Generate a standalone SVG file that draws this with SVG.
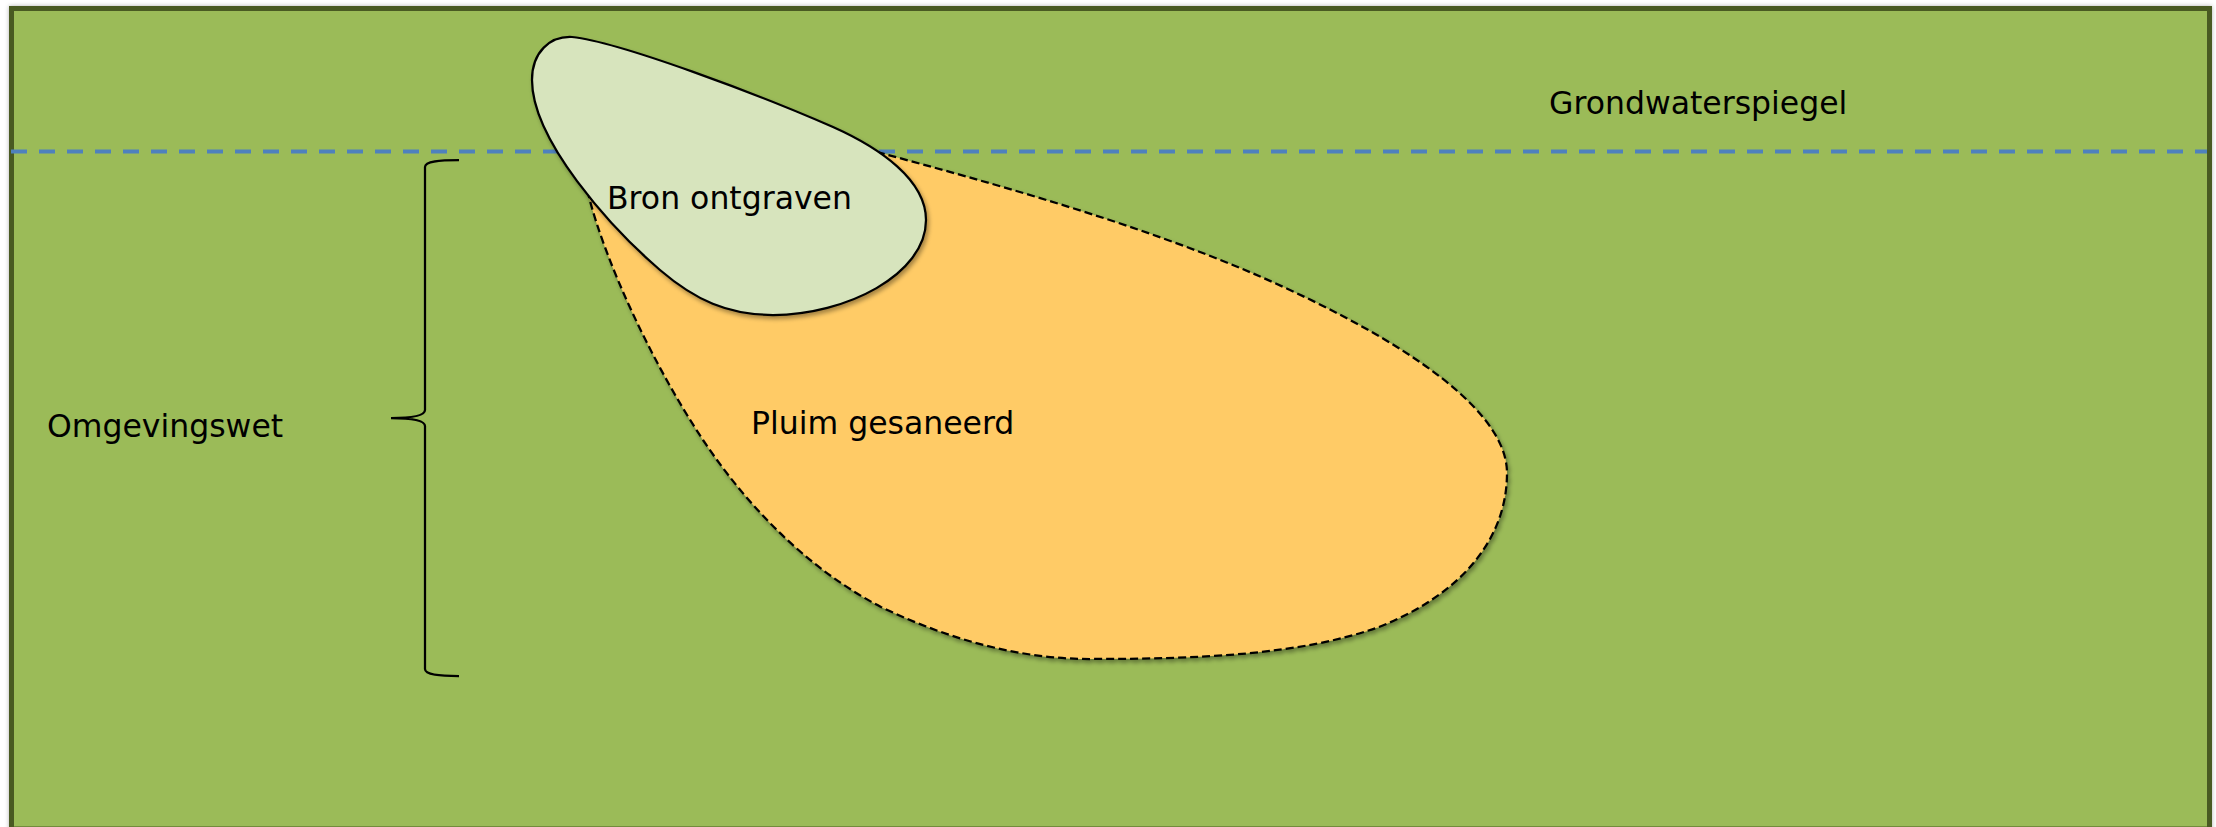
<svg xmlns="http://www.w3.org/2000/svg" width="2216" height="827" viewBox="0 0 2216 827">
  <defs>
    <filter id="shadow" x="-10%" y="-10%" width="130%" height="130%">
      <feDropShadow dx="2" dy="3" stdDeviation="2" flood-color="#000" flood-opacity="0.35"/>
    </filter>
    <filter id="frameShadow" x="-2%" y="-2%" width="104%" height="104%">
      <feDropShadow dx="0" dy="0" stdDeviation="2" flood-color="#000" flood-opacity="0.3"/>
    </filter>
  </defs>
  <style>
    .lbl { font-family: "DejaVu Sans", Verdana, "Liberation Sans", sans-serif; font-size: 31.5px; fill: #000; }
    .frame { fill: #9BBB59; stroke: #4A5A24; stroke-width: 5; }
    .water { stroke: #4F81BD; stroke-width: 4; stroke-dasharray: 16 12; fill: none; }
    .plume { fill: #FFCB66; stroke: #000; stroke-width: 2.25; stroke-dasharray: 8 4; }
    .source { fill: #D7E4BD; stroke: #000; stroke-width: 2.25; }
    .brace { fill: none; stroke: #000; stroke-width: 2.25; }
  </style>
  <rect width="2216" height="827" fill="#ffffff"/>
  <g id="ground">
    <rect class="frame" x="11.5" y="8.5" width="2198" height="820.5" filter="url(#frameShadow)"/>
  </g>
  <g id="connectors">
    <line class="water" x1="11" y1="151.5" x2="2207" y2="151.5"/>
    <path class="brace" d="M459,160 C440,160 425,161 425,167 L425,410 C425,416 410,418 391,418 C410,418 425,420 425,426 L425,669 C425,675 440,676 459,676"/>
  </g>
  <g id="grondwaterspiegel">
    <text class="lbl" x="1549" y="114">Grondwaterspiegel</text>
  </g>
  <g id="pluim">
    <path class="plume" filter="url(#shadow)" d="M877,152 C1000,185 1140,225 1252,273 C1370,324 1507,400 1507,473 C1507,540 1460,595 1379,627 C1300,655 1200,659 1090,659 C1020,659 950,640 881,607 C810,570 750,510 703,440 C650,360 605,260 589,197 Z"/>
    <text class="lbl" x="751" y="434">Pluim gesaneerd</text>
  </g>
  <g id="bron">
    <path class="source" filter="url(#shadow)" d="M572,37 C620,42 760,95 833,127 C880,148 926,180 926,220 C926,275 845,315 773,315 C728,315 695,300 660,270 C610,227 532,140 532,80 C532,52 550,36 572,37 Z"/>
    <text class="lbl" x="607" y="209">Bron ontgraven</text>
  </g>
  <g id="omgevingswet">
    <text class="lbl" x="47" y="437">Omgevingswet</text>
  </g>
</svg>
